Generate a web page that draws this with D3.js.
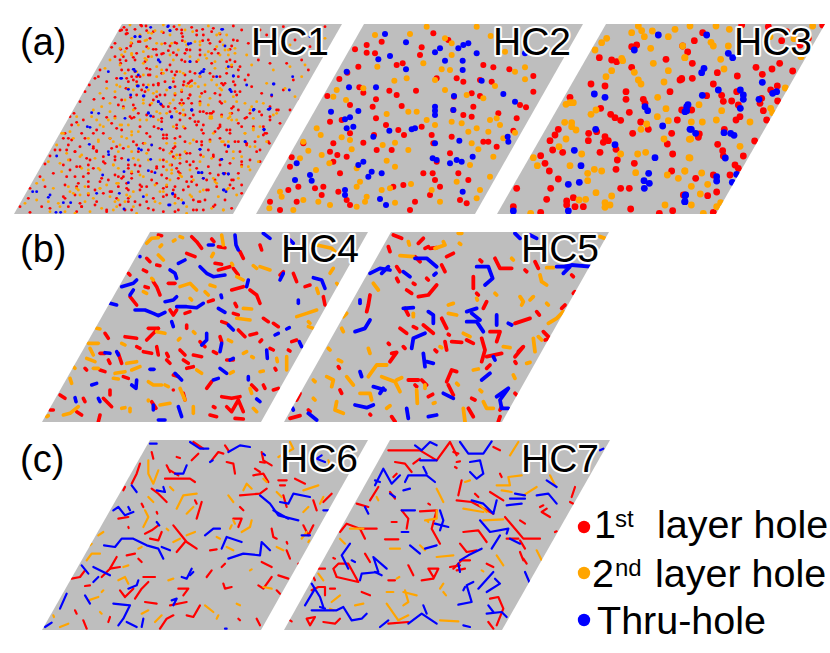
<!DOCTYPE html>
<html>
<head>
<meta charset="utf-8">
<script src="https://cdn.jsdelivr.net/npm/d3@7"></script>
<style>
  html, body { margin: 0; padding: 0; background: #fff; }
  svg { display: block; }
</style>
</head>
<body>
<div id="myDiv"></div>
<script>
//--------------------------------------------------
// Data: hole positions, in sample units per panel
//--------------------------------------------------
var hc1Red = [[372,52],[360,62],[378,72],[425,48],[440,62],[415,95],[345,100],[335,112],[362,118],[392,108],[440,110],[468,118],[495,100],[530,58],[545,70],[530,100],[560,118],[520,128],[590,62],[610,75],[640,55],[625,90],[660,95],[700,90],[725,60],[745,100],[690,118],[645,118],[600,120],[770,118],[300,180],[285,205],[255,245],[268,225],[295,200],[320,215],[350,205],[345,140],[378,152],[405,150],[445,140],[485,132],[510,165],[545,150],[590,155],[635,160],[690,150],[720,170],[775,150],[810,160],[735,210],[745,195],[700,215],[660,200],[630,190],[585,190],[555,195],[530,185],[485,190],[450,195],[420,200],[395,200],[378,235],[410,215],[425,240],[475,225],[520,215],[552,215],[575,212],[570,255],[605,250],[645,250],[670,225],[720,245],[755,230],[785,250],[815,258],[240,275],[282,268],[310,265],[345,262],[392,262],[355,285],[400,285],[450,285],[490,290],[540,280],[575,280],[610,305],[640,305],[660,275],[700,290],[740,322],[778,305],[810,330],[835,300],[222,310],[215,345],[250,330],[320,322],[345,320],[402,322],[485,335],[540,330],[570,325],[590,345],[610,345],[660,350],[690,360],[725,350],[760,350],[790,375],[808,400],[195,370],[205,385],[245,370],[290,360],[350,355],[500,375],[490,385],[462,350],[440,370],[540,380],[590,395],[630,390],[660,385],[705,395],[740,400],[165,420],[150,438],[205,405],[225,425],[280,410],[290,422],[330,385],[350,410],[400,395],[430,400],[490,420],[525,410],[560,430],[602,435],[640,440],[720,425],[770,425],[135,462],[210,450],[240,470],[270,450],[310,455],[345,440],[385,475],[420,468],[470,470],[490,450],[540,460],[570,465],[625,470],[660,465],[690,460],[725,455],[120,500],[160,490],[200,500],[265,490],[325,510],[345,495],[365,505],[395,490],[455,510],[485,495],[540,490],[575,500],[620,510],[655,495],[695,510],[715,490],[90,535],[135,530],[235,520],[265,530],[300,515],[335,545],[380,535],[425,530],[500,530],[565,530],[620,540],[690,525],[60,590],[85,565],[125,590],[150,595],[195,565],[245,590],[290,575],[320,600],[385,575],[440,575],[490,560],[535,565],[600,575],[640,590],[590,600],[460,600],[230,605],[90,607],[780,60],[800,75],[825,100],[830,130],[860,160],[900,60],[930,110],[960,55],[975,50],[850,240],[880,210],[900,270],[870,300],[840,340],[905,150],[850,50],[885,90],[925,180],[945,130],[800,370]];
var hc1Orange = [[420,75],[440,90],[455,70],[395,85],[470,100],[510,75],[555,95],[485,65],[600,95],[650,75],[675,120],[685,135],[365,135],[330,150],[315,175],[360,165],[430,160],[455,140],[395,130],[430,125],[520,150],[570,140],[615,135],[660,135],[740,135],[755,165],[680,175],[695,165],[645,175],[470,170],[410,185],[375,190],[350,225],[320,235],[345,245],[300,250],[280,300],[290,330],[310,350],[330,305],[305,290],[400,240],[445,225],[470,245],[500,240],[525,250],[545,240],[570,230],[600,200],[635,210],[615,225],[665,240],[700,260],[735,280],[750,300],[770,275],[800,220],[330,280],[375,270],[430,270],[470,305],[500,310],[550,300],[630,325],[600,280],[420,330],[385,345],[360,345],[395,375],[365,380],[415,365],[440,330],[475,330],[520,350],[550,350],[640,370],[685,325],[710,330],[735,370],[780,350],[185,370],[235,345],[210,365],[265,385],[295,395],[340,395],[355,425],[385,410],[440,430],[500,400],[530,435],[570,400],[665,395],[700,425],[750,410],[170,405],[200,430],[145,455],[240,440],[340,465],[400,445],[510,465],[600,455],[775,455],[745,470],[110,520],[130,510],[185,485],[160,535],[230,535],[210,545],[240,555],[265,550],[300,535],[350,520],[500,480],[515,490],[545,500],[580,510],[605,490],[645,515],[680,540],[110,570],[75,580],[145,575],[175,580],[400,590],[390,560],[355,570],[490,545],[465,575],[575,560],[600,545],[670,600],[560,590],[150,605],[850,70],[870,105],[905,110],[945,70],[820,180],[870,170],[915,165],[855,235],[885,260],[830,310],[800,395],[765,410],[760,360],[905,200],[975,85]];
var hc1Blue = [[503,50],[510,62],[405,80],[420,80],[452,52],[565,102],[572,100],[475,150],[480,156],[570,155],[605,185],[612,178],[325,185],[400,178],[406,184],[362,205],[412,228],[440,232],[510,232],[690,238],[694,245],[475,275],[482,282],[432,258],[576,300],[275,308],[296,310],[445,308],[452,318],[515,322],[375,325],[262,350],[270,352],[485,358],[792,358],[762,298],[808,298],[740,225],[820,222],[700,198],[736,395],[455,405],[416,416],[424,420],[268,403],[600,418],[685,408],[325,425],[326,434],[170,438],[665,448],[452,448],[465,488],[385,450],[372,485],[445,482],[596,488],[606,488],[672,492],[685,492],[308,495],[385,518],[98,545],[110,545],[145,562],[150,555],[290,550],[358,550],[518,550],[672,540],[190,578],[212,578],[430,560],[506,585],[550,580],[372,597],[168,607],[182,607],[668,58],[675,108],[930,80],[878,200],[822,222],[815,255],[868,240],[760,300],[805,298],[792,358]];

// closer reading of three stretches of HC1
var hc1NorthRed = [[5,30],[20,30],[22,40],[62,15],[78,18],[45,28],[100,35],[130,38],[90,55],[60,65],[35,70],[162,20],[185,30],[188,50],[187,62],[165,68],[150,78],[215,22],[248,28],[275,35],[300,42],[230,45],[248,62],[270,70],[340,18],[352,62],[335,78],[200,90],[210,90],[195,100],[145,92],[130,100],[100,88],[50,100],[20,85],[10,110],[0,120],[2,130],[40,112],[75,125],[110,105],[170,105],[195,125],[240,105],[275,100],[295,100],[320,125],[345,125],[335,140],[355,150],[5,150],[25,150],[45,155],[50,170],[80,145],[90,148],[85,165],[140,150],[155,155],[165,165],[210,155],[210,185],[240,170],[280,170],[320,160],[355,170],[20,175],[25,185],[40,180],[70,195],[100,195],[115,190],[135,185],[165,200],[190,195],[205,190],[305,190],[315,190],[345,195],[5,240],[50,225],[75,215],[110,230],[120,225],[135,225],[165,225],[185,215],[210,225],[255,215],[300,225],[345,215],[350,225],[10,260],[45,265],[100,240],[115,245],[125,255],[185,240],[205,235],[240,245],[260,280],[275,280],[305,250],[335,265],[355,270],[30,290],[55,280],[80,285],[100,290],[145,260],[150,275],[180,280],[220,285],[240,275],[305,285],[335,280],[125,295]];
var hc1NorthOrange = [[30,15],[85,38],[105,32],[130,15],[178,15],[195,30],[218,35],[265,18],[298,40],[305,60],[320,45],[33,68],[75,62],[85,85],[125,72],[155,70],[175,90],[200,75],[225,65],[240,75],[265,95],[290,80],[310,75],[325,90],[345,85],[0,85],[15,95],[35,105],[75,115],[80,120],[150,105],[235,120],[260,115],[285,125],[345,100],[125,150],[180,155],[190,160],[160,175],[235,200],[225,190],[130,160],[110,170],[290,195],[70,165],[50,195],[25,205],[0,200],[85,210],[100,220],[200,198],[215,198],[240,230],[270,235],[300,205],[350,245],[315,245],[160,240],[10,265],[40,270],[70,250],[150,250],[170,275],[190,285],[275,295],[270,290],[330,290],[120,280],[95,250]];
var hc1NorthBlue = [[145,18],[150,32],[45,50],[60,50],[305,28],[205,72],[115,120],[210,125],[42,148],[55,165],[250,155],[240,160],[5,175],[55,198],[150,203],[25,208],[32,225],[70,228],[115,245],[330,210],[85,280],[155,290],[215,270],[290,170],[340,168],[325,140]];
var hc1WestRed = [[30,5],[50,22],[155,25],[185,45],[215,10],[240,35],[270,65],[295,40],[320,70],[310,60],[350,40],[10,70],[35,75],[75,70],[100,55],[130,55],[60,95],[100,100],[110,110],[130,125],[155,100],[190,100],[235,110],[230,90],[265,105],[300,100],[335,110],[0,105],[20,105],[45,110],[80,130],[10,150],[30,165],[50,155],[85,150],[100,160],[135,145],[165,135],[185,130],[205,150],[225,150],[235,170],[290,160],[310,155],[350,160],[45,185],[70,185],[125,190],[175,185],[190,185],[200,205],[215,190],[240,210],[275,170],[290,205],[320,190],[355,190],[15,210],[50,215],[85,200],[105,225],[150,230],[175,215],[205,225],[240,225],[260,215],[310,220],[345,215],[10,245],[45,240],[85,240],[130,235],[170,250],[205,250],[225,260],[280,250],[320,240],[345,240],[25,275],[65,275],[105,270],[140,290],[180,270],[195,285],[215,285],[240,270],[265,280],[310,290],[345,290],[60,265]];
var hc1WestOrange = [[10,55],[40,70],[50,5],[95,5],[120,30],[145,15],[165,10],[185,30],[115,75],[150,70],[215,50],[200,70],[255,85],[275,90],[345,85],[65,120],[25,135],[0,145],[105,130],[115,160],[85,165],[120,165],[180,90],[215,110],[235,135],[265,135],[300,135],[320,140],[65,160],[160,150],[175,160],[175,205],[215,170],[200,240],[240,180],[250,185],[320,210],[150,245],[25,215],[55,225],[75,215],[40,235],[75,260],[100,250],[165,260],[170,275],[195,260],[140,210],[120,220],[300,230],[285,210],[300,265],[345,265],[0,275],[15,290],[45,295],[90,290],[125,280],[160,285],[230,295],[260,240],[220,230],[345,130]];
var hc1EastRed = [[40,10],[15,25],[65,30],[45,45],[120,40],[150,75],[145,85],[75,65],[85,65],[20,75],[45,85],[95,90],[100,100],[135,95],[170,90],[180,100],[205,70],[240,40],[225,55],[275,45],[300,50],[300,20],[320,30],[280,80],[285,100],[255,125],[295,125],[270,150],[230,135],[205,125],[95,125],[95,135],[45,125],[15,115],[10,145],[70,185],[50,185],[30,165],[60,160],[165,135],[170,155],[150,180],[130,165],[115,150],[10,170],[5,195],[80,205],[120,220],[135,240],[165,220],[190,240],[215,195],[270,185],[240,180],[25,215],[50,245],[65,245],[80,255],[100,235],[115,270],[140,260],[190,265],[215,255],[40,270],[10,270],[15,290],[70,300],[85,305],[105,300],[135,315],[165,300],[25,330],[70,330],[100,330],[185,325],[215,280]];
var hc1EastOrange = [[35,15],[90,15],[115,15],[125,50],[155,50],[180,40],[185,60],[250,55],[245,20],[280,10],[310,45],[225,100],[250,85],[265,110],[175,125],[160,125],[120,125],[70,120],[45,155],[0,160],[30,175],[125,175],[100,170],[215,170],[240,210],[5,210],[30,225],[60,210],[130,235],[140,250],[175,265],[205,235],[0,240],[100,270],[35,300],[60,285],[145,290],[200,285],[125,325],[160,330],[50,340],[215,200],[190,175]];
var hc1EastBlue = [[5,50],[65,30],[250,30],[300,25],[282,90],[225,125],[175,140],[90,148],[155,178],[85,218],[95,218],[100,235],[160,220],[175,222],[160,270],[168,275],[40,308],[8,282],[0,315]];

var hc2Red = [[395,95],[315,118],[350,105],[350,128],[375,130],[458,160],[325,170],[440,165],[292,188],[268,207],[510,135],[515,112],[550,70],[595,90],[640,215],[560,205],[620,205],[700,165],[730,172],[690,210],[725,215],[778,178],[850,198],[850,245],[418,242],[498,242],[328,232],[340,248],[232,258],[378,268],[368,290],[300,285],[455,288],[440,255],[612,260],[665,250],[690,258],[670,290],[810,285],[828,292],[240,335],[275,330],[378,325],[408,345],[445,360],[462,375],[515,350],[372,375],[300,370],[250,400],[240,425],[262,435],[250,455],[270,490],[290,440],[160,400],[125,442],[120,470],[145,530],[115,540],[195,535],[215,555],[220,530],[380,420],[425,420],[340,398],[545,375],[550,400],[605,380],[600,430],[560,455],[548,490],[555,510],[540,555],[570,530],[630,570],[650,580],[655,510],[480,600],[495,575],[430,530],[460,525],[300,585],[290,570],[265,545],[60,575],[90,600],[140,575],[800,325],[745,310],[640,315],[665,320],[610,300],[700,395],[715,395],[740,410],[790,362],[625,490],[520,490],[848,440],[785,530],[720,565],[735,600]];
var hc2Orange = [[375,75],[480,72],[530,50],[680,50],[722,78],[585,85],[605,100],[765,125],[825,172],[825,208],[795,185],[520,160],[575,178],[555,210],[605,135],[600,180],[735,228],[470,205],[433,212],[382,170],[260,240],[250,260],[288,270],[340,235],[585,240],[650,255],[700,265],[410,312],[500,305],[475,305],[720,330],[740,325],[750,345],[605,335],[555,345],[530,330],[680,355],[655,365],[715,365],[635,340],[795,368],[200,355],[212,375],[160,395],[175,422],[215,435],[150,445],[238,460],[198,480],[275,382],[300,390],[398,405],[435,398],[475,420],[305,418],[435,470],[410,452],[320,475],[330,515],[320,530],[350,560],[395,540],[420,535],[483,522],[90,545],[95,560],[205,575],[240,585],[320,590],[345,575],[435,578],[545,540],[570,575],[620,515],[690,540],[680,565],[720,500],[730,440],[665,400],[685,418],[660,465],[760,385],[58,595],[130,600],[160,570],[860,465],[835,555]];
var hc2Blue = [[405,72],[468,97],[555,127],[570,115],[640,105],[655,100],[625,115],[680,130],[585,152],[638,152],[638,180],[385,148],[420,138],[468,178],[290,185],[695,212],[297,232],[378,232],[612,258],[760,252],[795,275],[555,290],[555,302],[555,315],[610,300],[325,303],[243,305],[300,322],[285,328],[290,355],[310,350],[418,362],[495,355],[485,358],[370,380],[628,392],[773,380],[775,395],[555,400],[548,445],[560,450],[600,460],[620,450],[635,455],[668,440],[340,455],[325,465],[365,485],[355,500],[395,490],[140,460],[180,495],[185,512],[135,510],[285,540],[285,555],[390,567],[408,585],[638,545],[825,130],[800,520],[790,600]];

var hc3Red = [[440,105],[425,110],[328,143],[365,150],[380,155],[425,172],[528,148],[578,108],[575,205],[570,210],[303,222],[345,228],[408,245],[408,268],[540,245],[240,262],[460,268],[465,280],[332,295],[418,307],[362,313],[375,323],[392,331],[452,336],[562,330],[205,358],[195,375],[180,392],[188,420],[218,427],[296,370],[295,392],[345,380],[355,392],[340,397],[320,365],[428,370],[475,358],[545,370],[532,402],[548,432],[378,418],[330,427],[382,450],[378,478],[433,460],[152,437],[165,460],[178,483],[205,507],[182,535],[170,568],[230,573],[230,585],[250,563],[255,590],[280,590],[392,535],[418,535],[422,597],[70,590],[152,607],[548,602],[508,610],[545,483],[580,555],[80,535]];
var hc3Orange = [[425,68],[445,48],[455,62],[463,80],[487,63],[535,80],[555,58],[482,115],[350,85],[335,98],[315,120],[395,145],[398,152],[365,182],[348,200],[433,187],[445,210],[453,222],[490,160],[535,182],[585,143],[522,216],[503,262],[528,296],[502,320],[535,332],[453,358],[470,342],[522,387],[598,388],[228,387],[224,337],[245,338],[245,350],[258,360],[228,283],[240,278],[250,278],[303,313],[318,300],[207,410],[130,443],[142,467],[240,467],[275,432],[293,490],[313,478],[335,483],[293,512],[365,558],[318,548],[267,570],[287,568],[345,578],[360,585],[345,592],[443,432],[467,427],[437,488],[532,495],[565,505],[585,483],[597,443],[525,585],[122,610],[392,432]];
var hc3Blue = [[505,75],[433,120],[313,252],[345,262],[465,290],[473,302],[585,305],[518,348],[600,358],[317,358],[375,404],[253,421],[495,443],[273,467],[476,490],[462,512],[478,520],[463,535],[235,523],[268,517],[585,558],[585,575],[70,603],[235,603],[590,290]];
// right hand part of HC3
var hc3EastRed = [[68,68],[43,92],[23,126],[37,160],[5,208],[37,205],[112,188],[172,198],[228,172],[247,193],[276,177],[299,160],[338,183],[100,222],[125,256],[130,274],[80,257],[155,273],[170,245],[175,285],[250,302],[240,280],[245,265],[293,273],[272,240],[292,228],[260,330],[180,320],[168,330],[133,358],[58,372],[55,382],[224,393],[113,403],[128,422],[130,438],[190,438],[165,465],[175,475],[150,495],[47,505],[100,495],[83,557],[110,546],[15,555],[100,607],[265,50],[320,65],[305,92],[360,105],[385,85],[428,45],[185,45],[25,300],[35,300],[5,300]];
var hc3EastOrange = [[30,48],[108,48],[148,58],[8,108],[93,97],[100,108],[145,108],[14,143],[122,148],[132,177],[316,234],[57,284],[125,302],[109,330],[210,336],[272,295],[278,308],[34,336],[67,336],[32,387],[180,409],[30,444],[14,483],[65,489],[34,529],[83,523],[61,552],[34,585],[122,578],[110,590],[70,610],[342,86],[398,48],[363,140],[270,80]];
var hc3EastBlue = [[80,75],[145,130],[158,143],[72,175],[65,188],[67,256],[115,240],[181,240],[190,255],[190,268],[181,295],[247,217],[278,250],[290,245],[237,268],[24,284],[20,302],[34,358],[47,370],[132,368],[152,370],[162,376],[136,444],[170,493],[157,517],[110,500],[110,513],[17,555],[14,575]];

var hc4Red = [[[350,100],[360,110]],[[385,30],[395,32]],[[485,35],[500,50],[515,70]],[[545,42],[552,50]],[[565,65],[585,68]],[[690,60],[695,75]],[[630,80],[640,100]],[[470,85],[495,95]],[[380,120],[390,122]],[[295,145],[300,150]],[[340,135],[350,140]],[[370,170],[380,185],[390,210]],[[415,175],[435,175]],[[555,115],[575,118]],[[565,135],[600,125]],[[610,130],[625,150]],[[605,195],[640,185]],[[660,195],[680,210],[690,235]],[[750,150],[760,140]],[[790,145],[800,170]],[[825,185],[840,180]],[[880,215],[885,240]],[[345,185],[355,188]],[[300,215],[320,240]],[[420,255],[430,270],[440,255]],[[465,265],[480,260]],[[535,230],[550,225]],[[615,235],[620,245]],[[610,265],[625,270]],[[575,290],[590,295]],[[625,315],[645,335]],[[700,280],[715,290]],[[730,295],[745,305]],[[660,330],[680,325]],[[690,350],[695,345]],[[785,350],[800,345]],[[285,335],[320,340]],[[350,345],[385,310]],[[355,310],[385,310]],[[470,300],[470,310]],[[225,325],[235,340]],[[510,350],[525,365]],[[570,335],[575,350]],[[210,385],[225,385]],[[235,405],[240,415]],[[265,385],[275,415]],[[320,365],[330,370]],[[340,380],[365,385]],[[380,365],[385,390]],[[410,385],[415,395]],[[450,375],[465,390]],[[460,405],[475,415]],[[410,405],[420,415]],[[490,390],[515,395]],[[550,380],[560,385]],[[590,405],[610,405]],[[720,370],[730,375]],[[775,375],[780,378]],[[165,430],[170,435]],[[210,435],[225,440]],[[280,455],[295,460]],[[430,450],[445,455]],[[470,430],[490,425]],[[735,430],[738,435]],[[530,490],[545,470]],[[665,480],[680,495]],[[700,480],[705,490]],[[240,495],[240,510]],[[220,520],[245,545]],[[90,510],[105,520]],[[160,520],[165,530]],[[60,555],[70,555]],[[140,560],[155,570]],[[365,530],[378,550]],[[210,570],[205,590]],[[550,545],[555,548]],[[540,570],[560,575]],[[575,515],[605,520],[630,515]],[[590,545],[605,560],[625,525],[640,560]],[[615,580],[640,582]],[[430,495],[430,495]],[[460,505],[465,525]],[[730,495],[745,490]]];
var hc4Orange = [[[350,55],[365,40],[385,38]],[[395,60],[390,65]],[[430,48],[435,45]],[[450,35],[458,38]],[[575,30],[580,60]],[[690,125],[720,135]],[[670,122],[680,130]],[[385,90],[400,105]],[[605,115],[608,120]],[[545,95],[550,85]],[[365,160],[370,165]],[[450,185],[480,175],[500,195]],[[540,180],[555,185]],[[525,200],[535,210]],[[480,220],[485,225]],[[620,155],[640,165]],[[860,190],[865,205]],[[860,60],[905,70],[920,85]],[[900,145],[910,130]],[[920,175],[925,180]],[[800,275],[830,265],[860,255]],[[835,290],[840,295]],[[835,305],[850,310]],[[640,250],[665,252]],[[620,280],[660,285]],[[340,200],[350,205]],[[380,320],[405,325]],[[200,310],[210,312]],[[175,355],[205,355]],[[180,370],[190,390]],[[285,360],[275,355]],[[170,400],[195,410]],[[320,410],[290,415]],[[445,345],[450,340]],[[490,320],[495,325]],[[595,345],[605,350]],[[640,385],[650,380]],[[665,395],[670,398]],[[740,400],[742,410]],[[770,395],[770,435]],[[305,435],[330,425]],[[190,430],[205,430]],[[255,445],[285,440]],[[250,460],[265,462]],[[120,460],[125,475]],[[130,425],[135,430]],[[355,470],[370,480],[395,480]],[[405,480],[415,485]],[[450,490],[465,525]],[[500,435],[515,445]],[[600,445],[610,440]],[[690,440],[700,438]],[[660,490],[665,505]],[[100,570],[120,565],[145,545]],[[50,575],[55,572]],[[275,550],[285,548]],[[300,550],[300,560]],[[355,525],[355,528]],[[390,540],[420,535]],[[490,545],[490,565]],[[670,550],[680,560]]];
var hc4Blue = [[[315,255],[345,255],[370,265],[385,272],[405,262]],[[405,230],[430,225],[440,215]],[[440,245],[470,245],[500,248],[520,235]],[[420,135],[435,145],[440,160]],[[445,115],[465,105]],[[510,125],[530,145],[550,155],[585,150]],[[275,185],[310,175],[320,165]],[[310,195],[300,210]],[[240,235],[260,240]],[[615,30],[618,60],[625,75]],[[700,25],[720,40]],[[780,45],[790,55]],[[850,158],[875,165],[885,190]],[[750,165],[760,145]],[[655,165],[650,185]],[[573,210],[575,218]],[[805,225],[805,235]],[[565,250],[585,262]],[[425,290],[430,305]],[[530,325],[530,345],[515,360]],[[575,355],[570,380]],[[595,300],[610,315]],[[710,375],[712,400]],[[600,405],[610,400]],[[570,430],[590,445]],[[435,445],[455,465]],[[360,433],[372,433]],[[320,465],[318,490],[305,480]],[[260,380],[265,390]],[[225,383],[240,385]],[[185,480],[200,475]],[[135,518],[138,530]],[[205,520],[210,530]],[[445,545],[455,575]],[[370,540],[370,555]],[[385,585],[405,585]],[[550,465],[565,460]],[[655,465],[655,455]],[[680,522],[690,530]],[[808,350],[815,365]],[[735,330],[745,325]],[[535,60],[550,60]],[[330,95],[330,95]],[[770,312],[778,308]]];

var hc5Red = [[[340,30],[365,40]],[[325,65],[330,80]],[[415,55],[430,40]],[[435,70],[445,65]],[[450,70],[470,68]],[[405,95],[420,110]],[[500,95],[520,85]],[[485,120],[495,140]],[[350,125],[360,140]],[[350,160],[355,170]],[[380,195],[395,205]],[[415,215],[445,210],[470,180]],[[400,175],[405,178]],[[440,160],[445,165]],[[580,155],[580,190]],[[645,100],[660,130],[695,130]],[[600,105],[605,110]],[[765,110],[775,130]],[[735,135],[740,140]],[[875,150],[880,155]],[[880,205],[885,200]],[[855,240],[845,250]],[[270,210],[265,240],[260,260]],[[375,250],[385,270]],[[620,230],[610,250]],[[590,205],[595,210]],[[770,260],[778,270]],[[705,295],[750,280]],[[485,280],[500,310]],[[360,310],[380,325]],[[400,305],[410,310]],[[430,300],[460,325]],[[505,328],[508,330]],[[325,355],[328,358]],[[335,385],[350,382],[330,410]],[[370,365],[375,370]],[[495,350],[500,375]],[[515,350],[545,352]],[[560,345],[580,355]],[[605,340],[615,375],[605,410]],[[630,320],[660,320],[650,350]],[[620,395],[665,385]],[[715,380],[730,365],[705,395]],[[790,320],[810,340],[795,345]],[[465,375],[470,380]],[[705,410],[708,415]],[[175,425],[178,430]],[[500,470],[515,435],[530,440]],[[505,480],[520,510]],[[385,465],[415,465]],[[405,480],[410,485]],[[425,465],[440,480]],[[445,515],[458,508]],[[620,430],[630,420]],[[575,520],[585,525]],[[565,550],[580,575]],[[60,505],[50,525]],[[30,580],[60,572]],[[85,555],[90,560]],[[180,495],[185,505]],[[270,568],[272,570]],[[335,575],[345,590]],[[660,575],[655,590]],[[660,555],[665,545]],[[705,505],[710,510]]];
var hc5Orange = [[[385,50],[388,60]],[[360,92],[400,95]],[[465,70],[495,60],[490,50]],[[538,55],[542,58]],[[535,25],[545,25]],[[695,100],[700,105]],[[800,128],[820,128]],[[780,150],[785,170],[800,180]],[[960,35],[975,40]],[[280,175],[295,195]],[[720,215],[730,230],[725,240]],[[750,225],[760,215]],[[800,235],[805,240]],[[505,240],[520,235]],[[505,265],[530,270]],[[400,265],[400,275]],[[590,220],[592,225]],[[645,205],[650,210]],[[805,295],[830,280],[850,260]],[[760,340],[765,380]],[[775,335],[785,345]],[[190,275],[200,265]],[[185,310],[190,320]],[[550,325],[570,335]],[[265,370],[270,385]],[[145,370],[150,375]],[[480,365],[485,368]],[[670,365],[690,368]],[[740,415],[750,412]],[[580,435],[595,432]],[[530,475],[535,480]],[[140,455],[160,465],[155,485]],[[200,455],[220,480]],[[175,405],[185,410]],[[265,455],[290,420],[320,420]],[[305,455],[345,470],[360,500]],[[350,465],[365,458]],[[410,495],[412,535]],[[435,480],[435,490]],[[240,505],[270,505],[275,525]],[[100,520],[105,525]],[[170,530],[165,555],[190,565]],[[320,550],[330,542]],[[610,530],[620,550],[640,550]],[[550,550],[555,590]],[[600,495],[605,500]],[[460,535],[465,533]],[[700,450],[705,460]],[[100,465],[105,470]]];
var hc5Blue = [[[270,145],[300,130],[330,135]],[[305,145],[325,125]],[[370,140],[390,155]],[[405,100],[440,100],[470,125]],[[462,150],[468,145]],[[590,125],[625,125],[638,160],[615,180]],[[705,25],[720,40]],[[750,30],[770,40]],[[830,125],[860,125]],[[855,125],[875,120],[930,125]],[[850,145],[870,125]],[[240,225],[240,235]],[[225,320],[255,310],[270,285]],[[370,250],[400,248]],[[445,260],[460,270],[460,295]],[[560,260],[590,250]],[[560,290],[590,290],[610,320]],[[575,265],[600,285]],[[650,270],[650,300]],[[685,295],[695,300]],[[435,325],[400,340],[395,370]],[[430,385],[435,425]],[[440,410],[460,415]],[[240,440],[245,455]],[[280,485],[315,495]],[[310,490],[300,505]],[[490,505],[520,520]],[[605,465],[630,445]],[[650,515],[685,490],[660,525],[665,550],[685,550]],[[225,540],[260,548],[280,540]],[[380,550],[385,580]],[[445,575],[470,570]],[[85,565],[110,585]],[[640,395],[645,405]],[[38,550],[40,555]]];

var hc6Red = [[[365,60],[370,80]],[[410,100],[420,120]],[[440,75],[450,78]],[[485,85],[495,75],[505,65]],[[490,30],[520,50]],[[545,85],[565,60],[580,65]],[[585,40],[595,55]],[[590,90],[610,95],[615,125]],[[695,60],[700,85],[725,100]],[[690,90],[705,92]],[[330,95],[320,125],[305,155]],[[405,140],[480,140],[495,150]],[[420,115],[445,130]],[[670,130],[700,125],[715,150]],[[675,110],[690,120]],[[745,145],[770,145]],[[750,160],[765,160]],[[795,140],[825,155]],[[630,190],[690,185],[710,170]],[[760,190],[770,225]],[[905,185],[880,210]],[[850,205],[860,235]],[[280,175],[285,165]],[[365,170],[385,185],[410,210]],[[335,215],[340,225]],[[495,205],[500,215]],[[515,210],[500,260]],[[380,240],[382,245]],[[265,260],[295,255]],[[295,285],[296,288]],[[345,305],[365,295],[385,280]],[[360,320],[385,325],[395,300]],[[430,280],[470,330],[500,350]],[[465,330],[440,360]],[[630,225],[640,235]],[[610,260],[635,260],[625,285]],[[540,355],[560,352]],[[725,290],[730,315],[740,320]],[[770,330],[772,335]],[[770,355],[780,380]],[[820,280],[835,310],[850,280]],[[695,390],[725,405]],[[260,375],[240,410],[215,435]],[[290,370],[315,365]],[[325,380],[335,390]],[[125,440],[150,435],[165,415]],[[165,462],[180,460]],[[240,410],[270,405]],[[340,435],[375,435]],[[355,450],[335,470],[315,500]],[[270,475],[285,495],[310,470]],[[445,470],[475,470],[460,490]],[[420,520],[470,510]],[[530,435],[545,415]],[[575,405],[585,395]],[[580,455],[585,470],[605,465]],[[685,460],[700,470],[725,435]],[[745,430],[775,440]],[[740,475],[750,485]],[[135,535],[140,545]],[[160,565],[170,590]],[[235,570],[240,555]],[[345,510],[380,515]],[[390,590],[410,560],[430,550]],[[470,550],[490,555],[510,520]],[[680,560],[690,580]],[[625,560],[630,565]],[[805,395],[808,400]]];
var hc6Orange = [[[355,85],[355,125],[370,155],[385,115]],[[440,230],[460,190],[500,185]],[[470,245],[490,225]],[[345,235],[355,255],[340,285]],[[355,195],[370,210]],[[420,165],[430,175]],[[595,190],[610,210]],[[640,175],[650,155],[665,170]],[[700,140],[710,150]],[[740,180],[755,195]],[[820,175],[865,160]],[[870,215],[880,195]],[[820,240],[835,225]],[[780,30],[790,50],[745,75]],[[900,100],[895,85]],[[815,320],[830,300]],[[835,330],[838,325]],[[205,310],[220,300]],[[180,340],[185,335]],[[170,385],[185,365],[210,365]],[[325,350],[335,345]],[[410,290],[415,295]],[[430,330],[450,320]],[[470,310],[495,300]],[[635,300],[660,285],[665,265]],[[610,265],[615,275]],[[560,315],[570,320]],[[590,345],[610,355]],[[600,290],[605,280]],[[740,345],[760,355]],[[280,405],[295,400]],[[265,445],[285,435],[295,455]],[[415,445],[430,440]],[[660,415],[665,412]],[[700,465],[725,470]],[[175,505],[205,495]],[[215,480],[220,475]],[[210,540],[215,545]],[[70,550],[72,555]],[[90,585],[115,575]],[[335,545],[355,535]],[[375,570],[395,550]],[[525,520],[550,540]],[[620,515],[630,520]],[[560,560],[565,550]]];
var hc6Blue = [[[360,35],[380,35]],[[480,30],[510,50],[535,50]],[[595,60],[630,40],[660,45]],[[540,90],[548,85]],[[700,65],[705,70]],[[470,100],[460,125],[435,125]],[[305,160],[320,180]],[[380,175],[405,180],[400,165]],[[690,190],[720,215],[745,250],[805,265]],[[750,210],[775,215],[790,185],[840,195]],[[730,235],[775,260]],[[250,235],[265,225],[285,250],[310,240]],[[295,225],[300,235]],[[880,235],[895,235]],[[875,70],[860,80],[885,90]],[[380,270],[388,280]],[[525,310],[550,290],[570,290]],[[575,350],[590,315],[635,330]],[[595,380],[640,365],[690,370],[695,330],[720,355]],[[222,340],[255,345],[275,320],[310,320],[350,340],[385,350],[400,380]],[[395,345],[420,355]],[[155,400],[175,425]],[[190,405],[240,430]],[[205,435],[190,450]],[[295,470],[320,460],[325,445]],[[455,435],[470,440],[485,410]],[[480,430],[490,420]],[[425,505],[440,500],[430,520]],[[90,530],[110,485]],[[165,490],[180,515]],[[250,515],[300,520],[280,560],[265,580]],[[290,570],[320,585]],[[340,560],[335,585]],[[45,585],[65,572]],[[815,310],[840,310]],[[585,590],[590,590]]];

var hc7Red = [[[325,55],[420,55],[470,85],[510,30],[530,70]],[[345,90],[375,95],[395,120]],[[400,95],[420,80]],[[340,135],[350,125]],[[270,205],[295,165]],[[230,215],[265,225]],[[330,180],[345,200]],[[180,300],[200,275],[240,290],[290,290]],[[240,290],[255,320]],[[315,322],[355,322]],[[380,290],[385,260],[365,235]],[[420,238],[470,235],[455,290],[480,335]],[[335,270],[350,270]],[[445,215],[450,218]],[[530,90],[540,88]],[[525,105],[530,108]],[[660,125],[665,135]],[[545,145],[535,190]],[[530,205],[575,210],[640,245]],[[585,185],[595,195]],[[630,180],[670,205]],[[675,255],[705,290],[730,320],[780,320]],[[550,300],[595,295],[620,330]],[[720,325],[735,350]],[[680,320],[715,320]],[[720,265],[735,275]],[[825,300],[830,298]],[[540,335],[560,360],[590,355]],[[570,385],[545,385],[520,410]],[[555,410],[530,415]],[[620,395],[640,405]],[[160,378],[165,380]],[[255,365],[270,390]],[[160,410],[175,395],[205,395],[235,450],[170,435],[160,410]],[[115,410],[135,410]],[[100,435],[105,445]],[[385,400],[400,430]],[[425,445],[460,440],[475,410],[445,410],[460,435]],[[325,445],[345,445]],[[150,470],[165,470]],[[95,475],[115,465],[135,465],[135,490]],[[245,480],[270,490]],[[80,560],[90,580],[105,555],[80,560]],[[130,570],[165,575],[180,560]],[[325,575],[385,570]],[[30,565],[35,568]],[[510,405],[540,400]],[[630,500],[655,495],[670,530],[650,580]],[[625,570],[640,590]],[[875,195],[885,165]],[[800,230],[785,240],[810,255]],[[780,225],[790,220]],[[870,210],[880,215]],[[660,55],[640,45]],[[520,60],[535,65]],[[730,380],[740,395]],[[720,360],[730,385]]];
var hc7Orange = [[[690,70],[715,30]],[[650,160],[690,160],[685,135],[725,130]],[[665,175],[695,180]],[[570,145],[555,150]],[[730,190],[770,165]],[[470,170],[490,210]],[[210,290],[250,290]],[[290,195],[295,205]],[[180,320],[195,335]],[[330,350],[360,350]],[[420,340],[435,355]],[[435,265],[470,260],[470,235]],[[610,265],[670,262]],[[550,230],[610,240]],[[600,220],[620,240]],[[470,375],[520,370]],[[650,370],[670,400]],[[770,355],[785,385]],[[605,415],[610,418]],[[115,425],[130,445]],[[320,480],[340,480]],[[370,480],[410,490]],[[375,475],[385,510],[370,520]],[[480,470],[490,455]],[[490,480],[498,490]],[[225,520],[250,515]],[[155,510],[180,490]],[[320,515],[355,565],[385,550]],[[480,565],[535,568]],[[350,440],[358,435]],[[440,265],[445,270]],[[810,130],[825,160]],[[150,530],[160,535]]];
var hc7Blue = [[[405,40],[425,55],[450,30],[470,40]],[[420,85],[470,85]],[[540,30],[565,65],[610,65],[635,28]],[[570,90],[600,85],[610,125],[590,140],[570,120]],[[285,160],[310,110],[335,155],[360,130]],[[300,150],[285,145]],[[375,150],[385,130],[440,130],[465,150]],[[430,105],[440,125]],[[330,185],[345,195]],[[370,175],[390,170]],[[365,235],[405,235]],[[255,225],[265,245]],[[575,205],[610,215],[640,245],[650,205]],[[690,200],[735,200]],[[705,185],[735,190]],[[680,220],[725,215]],[[770,190],[805,185],[830,215]],[[800,145],[830,165]],[[600,265],[630,300],[685,290],[680,305]],[[635,350],[660,310]],[[465,275],[505,285]],[[480,235],[490,265],[480,295]],[[365,300],[385,300]],[[390,340],[420,365]],[[435,350],[470,340]],[[210,335],[185,370],[205,410]],[[215,385],[225,390]],[[240,445],[245,425],[295,420],[280,375],[320,410]],[[285,420],[305,430]],[[540,385],[565,370],[605,350]],[[535,395],[540,420]],[[580,450],[560,460],[575,510],[535,518]],[[555,465],[550,475]],[[595,470],[640,420]],[[620,480],[660,455],[645,440]],[[620,545],[665,540],[680,555]],[[625,520],[640,540]],[[735,420],[748,450]],[[690,320],[720,335]],[[75,520],[105,470]],[[95,455],[120,495],[130,525]],[[95,535],[170,535],[190,525],[215,565],[245,560],[260,545]],[[120,525],[135,530]],[[300,585],[325,565]],[[385,575],[425,545],[470,575]],[[430,520],[440,545]],[[550,580],[570,585]],[[960,55],[970,50]]];

var panelLabels = ['HC1', 'HC2', 'HC3', 'HC4', 'HC5', 'HC6', 'HC7'];
var groupLabels = ['(a)', '(b)', '(c)'];
var legendLabels = ['Thru-hole'];

//--------------------------------------------------
// Style
//--------------------------------------------------
var redColor = '#FF0000';
var orangeColor = '#FFA500';
var blueColor = '#0000FF';
var sheetColor = '#BEBEBE';
var fontName = '"Liberation Sans", Arial, sans-serif';

var svg = d3.select('#myDiv').append('svg')
  .attr('width', 830)
  .attr('height', 653)
  .style('font-family', fontName);

// outline = parallelogram in page pixels, frame = where a set of sample units sits on the page
var panels = [
  {id: 0, outline: [[122,24],[342,24],[233,214],[14,214]], r: 1.45, dotSets: [
    {frame: [0,10], dots: [hc1Red, hc1Orange, hc1Blue]},
    {frame: [120,20], dots: [hc1NorthRed, hc1NorthOrange, hc1NorthBlue]},
    {frame: [60,115], dots: [hc1WestRed, hc1WestOrange, []]},
    {frame: [170,100], dots: [hc1EastRed, hc1EastOrange, hc1EastBlue]}
  ]},
  {id: 1, outline: [[364,24],[583,24],[475,214],[256,214]], r: 3.0, dotSets: [
    {frame: [250,10], dots: [hc2Red, hc2Orange, hc2Blue]}
  ]},
  {id: 2, outline: [[606,24],[825,24],[716,214],[497,214]], r: 3.4, dotSets: [
    {frame: [490,10], dots: [hc3Red, hc3Orange, hc3Blue]},
    {frame: [680,10], dots: [hc3EastRed, hc3EastOrange, hc3EastBlue]}
  ]},
  {id: 3, outline: [[150,232],[368,232],[261,422],[42,422]], frame: [30,225], chains: [hc4Red, hc4Orange, hc4Blue], w: 3.6},
  {id: 4, outline: [[391,232],[609,232],[502,422],[284,422]], frame: [280,225], chains: [hc5Red, hc5Orange, hc5Blue], w: 3.8},
  {id: 5, outline: [[150,440],[368,440],[261,630],[42,630]], frame: [30,432], chains: [hc6Red, hc6Orange, hc6Blue], w: 2.2},
  {id: 6, outline: [[390,440],[610,440],[502,630],[284,630]], frame: [280,432], chains: [hc7Red, hc7Orange, hc7Blue], w: 2.2}
];
var seriesColors = [redColor, orangeColor, blueColor];

function frameScales(frame) {
  return {
    x: d3.scaleLinear().domain([0, 1200]).range([frame[0], frame[0] + 400]),
    y: d3.scaleLinear().domain([0, 900]).range([frame[1], frame[1] + 300])
  };
}

panels.forEach(function(panel) {
  svg.append('clipPath')
    .attr('id', 'clip' + panel.id)
    .append('polygon')
    .attr('points', panel.outline.join(' '));

  svg.append('polygon')
    .attr('points', panel.outline.join(' '))
    .attr('fill', sheetColor);

  var g = svg.append('g').attr('clip-path', 'url(#clip' + panel.id + ')');

  if (panel.dotSets) {
    // red first, then orange, blue goes on top
    [0, 1, 2].forEach(function(i) {
      panel.dotSets.forEach(function(set) {
        var s = frameScales(set.frame);
        g.append('g').selectAll('circle')
          .data(set.dots[i])
          .enter().append('circle')
            .attr('cx', function(d) { return s.x(d[0]); })
            .attr('cy', function(d) { return s.y(d[1]); })
            .attr('r', panel.r)
            .attr('fill', seriesColors[i]);
      });
    });
  }

  if (panel.chains) {
    var s = frameScales(panel.frame);
    var line = d3.line()
      .x(function(d) { return s.x(d[0]); })
      .y(function(d) { return s.y(d[1]); });
    panel.chains.forEach(function(chains, i) {
      g.append('g').selectAll('path')
        .data(chains)
        .enter().append('path')
          .attr('d', line)
          .attr('fill', 'none')
          .attr('stroke', seriesColors[i])
          .attr('stroke-width', panel.w)
          .attr('stroke-linecap', 'round')
          .attr('stroke-linejoin', 'round');
    });
  }
});

// Panel names, black with a white rim
var panelLabelSpots = [[251,55],[493,55],[734,55],[281,262],[521,262],[280,472],[521,472]];
svg.append('g').selectAll('text')
  .data(panelLabels)
  .enter().append('text')
    .attr('x', function(d, i) { return panelLabelSpots[i][0]; })
    .attr('y', function(d, i) { return panelLabelSpots[i][1]; })
    .attr('font-size', 39)
    .attr('fill', '#000')
    .attr('stroke', '#fff')
    .attr('stroke-width', 4)
    .attr('stroke-linejoin', 'round')
    .style('paint-order', 'stroke')
    .text(function(d) { return d; });

var groupLabelSpots = [[20,55],[20,262],[20,472]];
svg.append('g').selectAll('text')
  .data(groupLabels)
  .enter().append('text')
    .attr('x', function(d, i) { return groupLabelSpots[i][0]; })
    .attr('y', function(d, i) { return groupLabelSpots[i][1]; })
    .attr('font-size', 38)
    .attr('fill', '#000')
    .text(function(d) { return d; });

// Legend
function legendText(xPos, yPos, size, str) {
  svg.append('text')
    .attr('x', xPos)
    .attr('y', yPos)
    .attr('font-size', size)
    .attr('fill', '#000')
    .text(str);
}

var legendDots = [[584,527],[584,573],[584,620]];
svg.append('g').selectAll('circle')
  .data(legendDots)
  .enter().append('circle')
    .attr('cx', function(d) { return d[0]; })
    .attr('cy', function(d) { return d[1]; })
    .attr('r', 6.2)
    .attr('fill', function(d, i) { return seriesColors[i]; });

legendText(594, 538, 39.5, '1');
legendText(615, 527, 24, 'st');
legendText(657, 538, 39.5, 'layer hole');
legendText(592, 587, 39.5, '2');
legendText(615, 576, 24, 'nd');
legendText(655, 587, 39.5, 'layer hole');
legendText(597, 634, 39.5, legendLabels[0]);
</script>
</body>
</html>
